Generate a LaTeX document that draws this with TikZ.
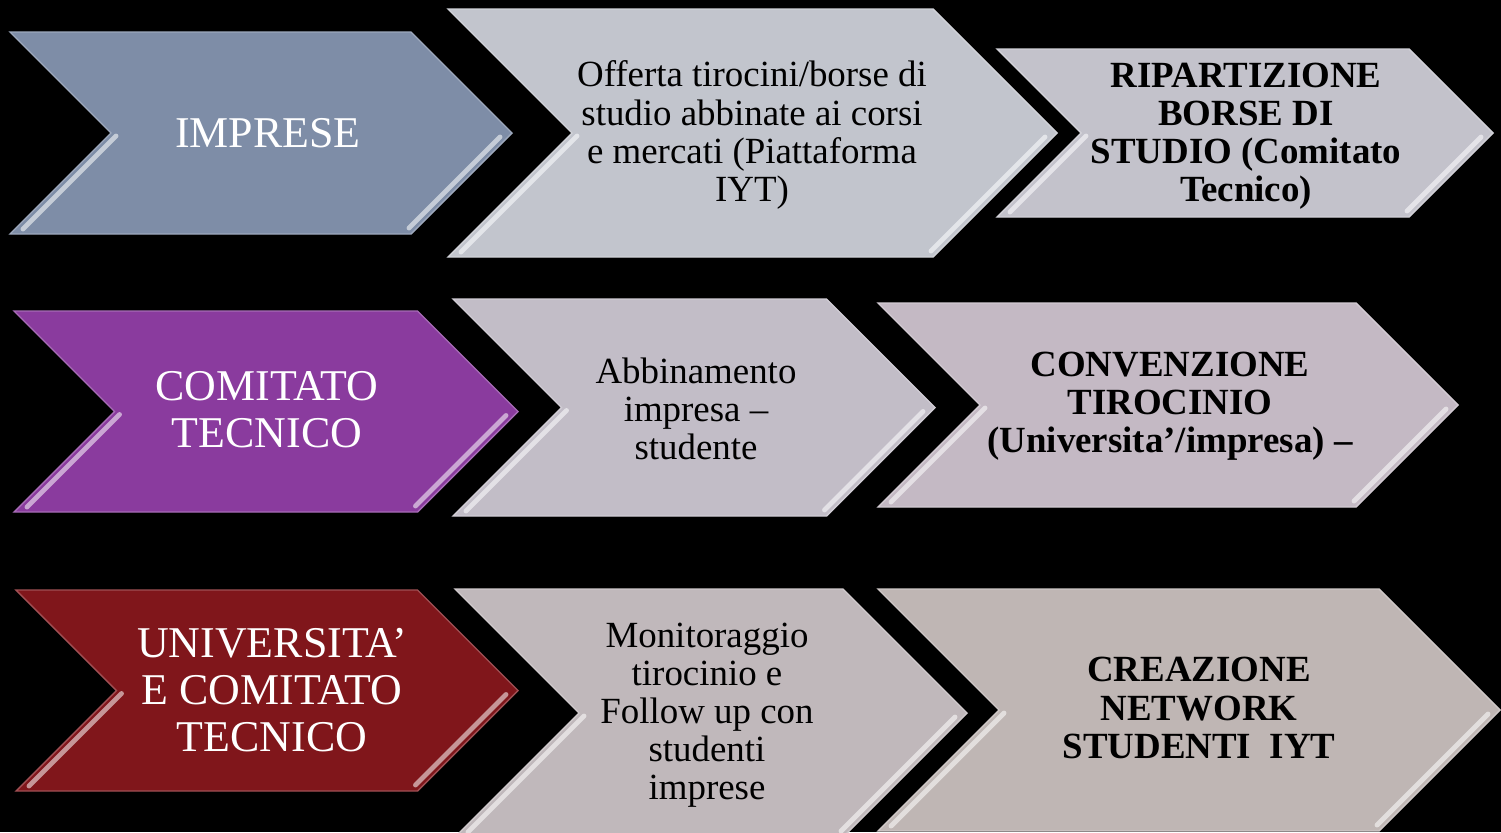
\documentclass[tikz,border=0pt]{standalone}
\usepackage{fontspec}
\setmainfont{Liberation Serif}
\usepackage{tikz}
\usetikzlibrary{calc,positioning}
\definecolor{impblue}{RGB}{126,141,167}
\definecolor{greyA}{RGB}{194,197,205}
\definecolor{greyB}{RGB}{195,194,203}
\definecolor{compurple}{RGB}{138,59,158}
\definecolor{greyC}{RGB}{194,189,199}
\definecolor{greyD}{RGB}{196,185,196}
\definecolor{unired}{RGB}{128,22,27}
\definecolor{greyE}{RGB}{192,184,187}
\definecolor{greyF}{RGB}{191,182,180}

\begin{document}
\begin{tikzpicture}[x=0.02cm,y=-0.02cm]

\tikzset{lefttext/.style={font=\fontsize{25}{26.6}\selectfont,text=white,align=center,inner sep=0pt},
midtext/.style={font=\fontsize{21}{21.7}\selectfont,text=black,align=center,inner sep=0pt},
righttext/.style={font=\fontsize{21}{21.7}\selectfont\bfseries,text=black,align=center,inner sep=0pt},
bevel/.style={line width=2.8pt,line cap=round}}

% Background
\fill[black] (0,0) rectangle (1501,832);
\useasboundingbox (0,0) rectangle (1501,832);
\clip (0,0) rectangle (1501,832);

% Chevrons (left x, top y, tip x, bottom y, colour)
\foreach \xl/\yt/\xr/\yb/\col in {10/32/512/234/impblue, 448/9/1057/257/greyA, 997/49/1493/217/greyB,
  14/311/518/512/compurple, 453/299/935/516/greyC, 878/303/1458/507/greyD,
  16/590/518/791/unired, 455/589/967/837/greyE, 878/589/1500/831/greyF} {
  \pgfmathsetmacro\ym{(\yt+\yb)/2}
  \pgfmathsetmacro\hh{(\yb-\yt)/2}
  \filldraw[fill=\col,draw=\col!75!white,line width=0.8pt] (\xl,\yt) -- ({\xr-\hh},\yt) -- (\xr,\ym) -- ({\xr-\hh},\yb) -- (\xl,\yb) -- ({\xl+\hh},\ym) -- cycle;
  % bevel highlights
  \draw[bevel,\col!45!white] ({\xl+\hh+5},{\ym+3}) -- ({\xl+13},{\yb-5});
  \draw[bevel,\col!45!white] ({\xr-12},{\ym+4}) -- ({\xr-\hh-2},{\yb-6});
}

% Row 1
\node[lefttext] (imprese) at (268,133) {IMPRESE};
\node[midtext] (offerta) at (752,135) {Offerta tirocini/borse di\\studio abbinate ai corsi\\e mercati (Piattaforma\\IYT)};
\node[righttext] (ripartizione) at (1246,136) {RIPARTIZIONE\\BORSE DI\\STUDIO (Comitato\\Tecnico)};

% Row 2
\node[lefttext] (comitato) at (267,410) {COMITATO\\TECNICO};
\node[midtext] (abbinamento) at (696,409) {Abbinamento\\impresa –\\studente};
\node[righttext] (convenzione) at (1170,406) {CONVENZIONE\\TIROCINIO\\(Universita’/impresa) –};

% Row 3
\node[lefttext] (universita) at (272,690) {UNIVERSITA’\\E COMITATO\\TECNICO};
\node[midtext] (monitoraggio) at (707,715) {Monitoraggio\\tirocinio e\\Follow up con\\studenti\\imprese};
\node[righttext] (creazione) at (1199,708) {CREAZIONE\\NETWORK\\STUDENTI \ IYT};

\end{tikzpicture}
\end{document}
